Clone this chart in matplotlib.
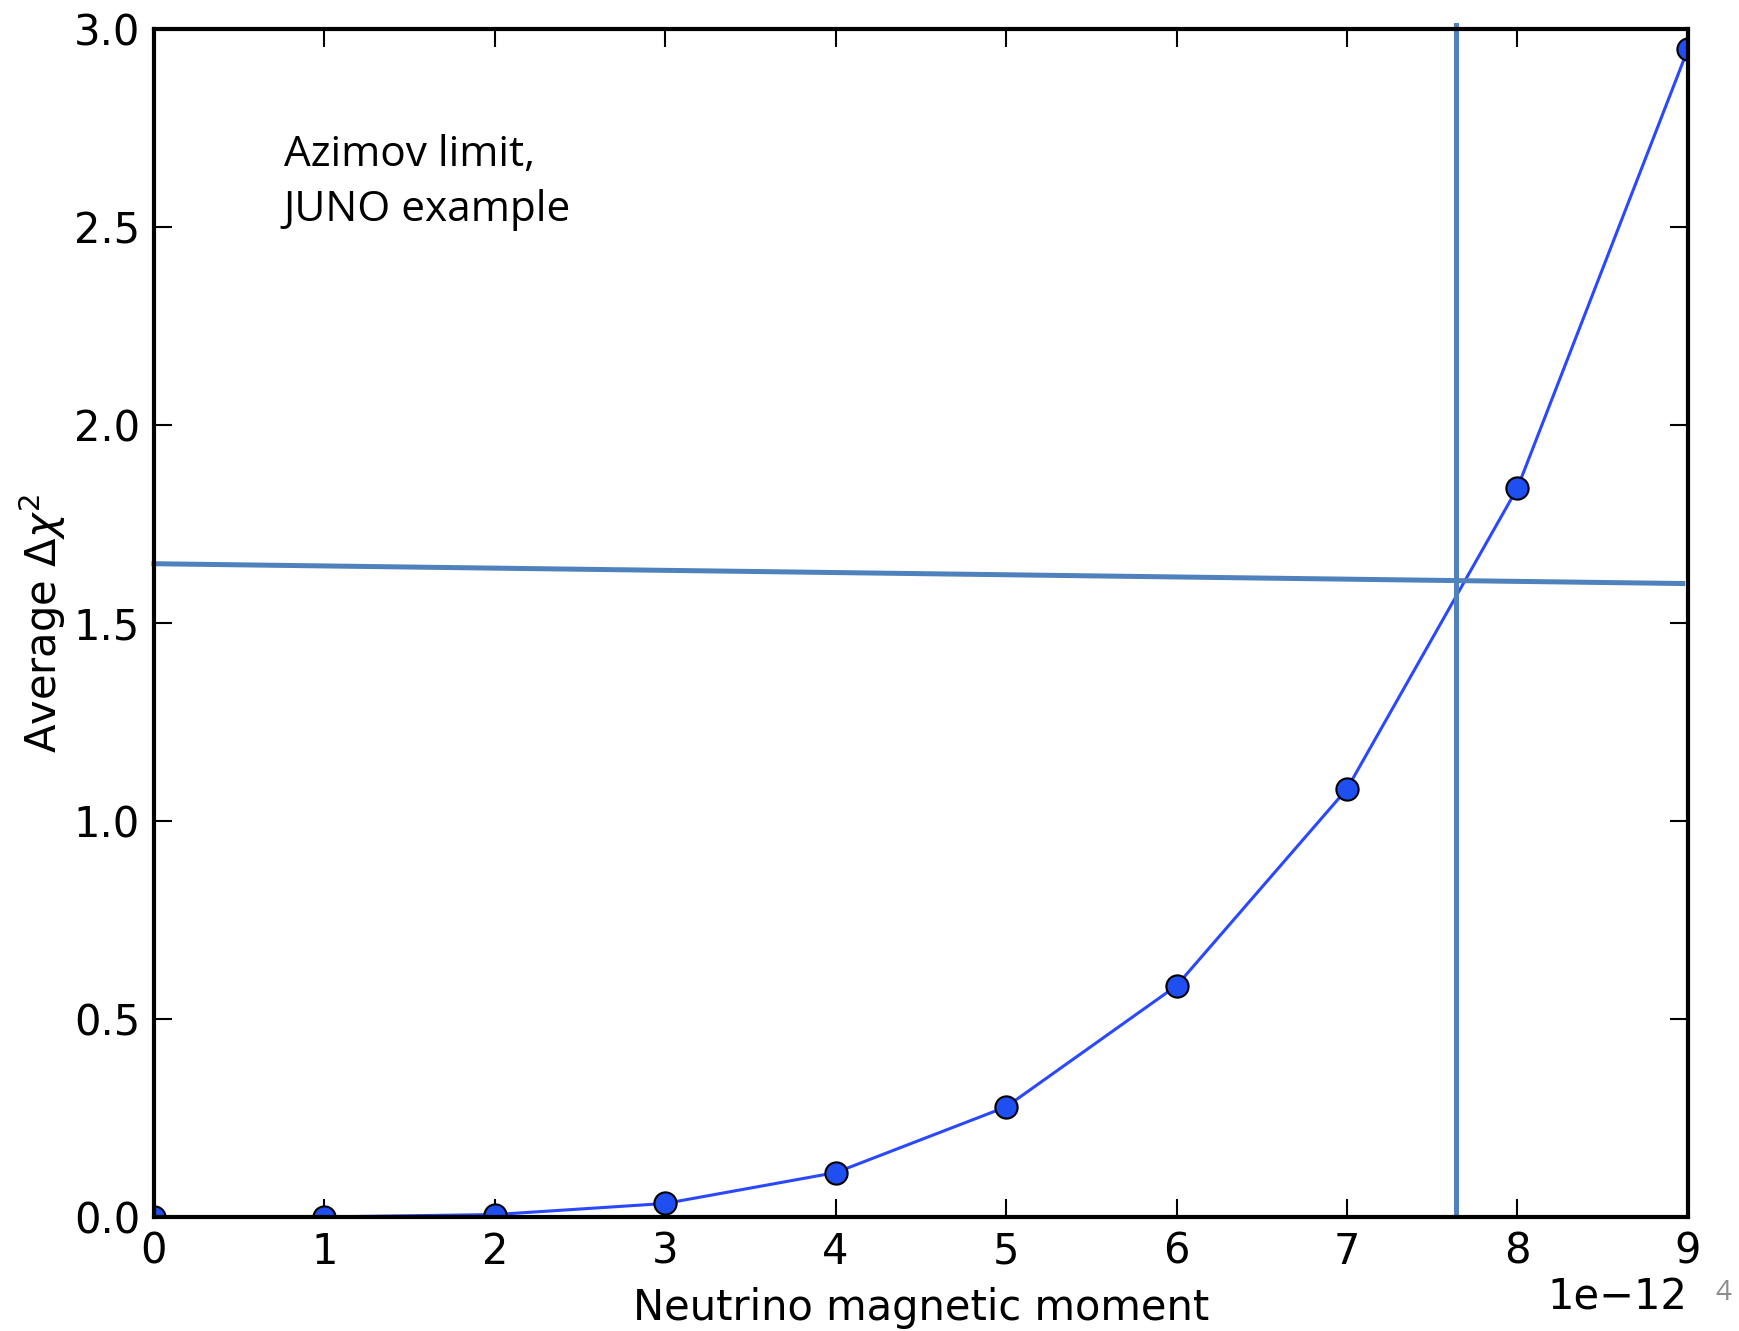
import numpy as np
import matplotlib
matplotlib.use("Agg")
from matplotlib import pyplot as plt

# data
moment = [0, 1, 2, 3, 4, 5, 6, 7, 8, 9]          # in units of 1e-12
avg_dchi2 = [0.0, 0.0, 0.006, 0.034, 0.112, 0.278, 0.584, 1.081, 1.841, 2.949]

# hand drawn guide lines on the slide
hline_x = [0.0, 8.97]
hline_y = [1.65, 1.60]
vline_x = [7.64, 7.64]
vline_y = [0.008, 3.01]

x = np.array(moment) * 1e-12

fig = plt.figure(figsize=(17.4, 13.31), dpi=100)
ax = fig.add_axes([0.0885, 0.0857, 0.8815, 0.8923])

ax.plot(x, avg_dchi2, "-", color="#2a48ff", lw=2.2,
        marker="o", ms=16, mfc="#1f4ff0", mec="black", mew=1.5)

ax.plot(np.array(hline_x) * 1e-12, hline_y, color="#4f81bd", lw=3.6, clip_on=False)
ax.plot(np.array(vline_x) * 1e-12, vline_y, color="#4f81bd", lw=3.6, clip_on=False)

ax.set_xlim(0, 9e-12)
ax.set_ylim(0, 3.0)
ax.set_yticks([0, 0.5, 1.0, 1.5, 2.0, 2.5, 3.0])
ax.set_xticks(x)

ax.tick_params(direction="in", length=13, width=1.5, top=True, right=True,
               labelsize=30, pad=10)
for s in ax.spines.values():
    s.set_linewidth(3)
ax.xaxis.get_offset_text().set_fontsize(30)

ax.set_xlabel("Neutrino magnetic moment", fontsize=30, labelpad=10)
ax.set_ylabel(r"Average $\Delta\chi^2$", fontsize=30, labelpad=4)

ax.text(0.0845, 0.912, "Azimov limit,\nJUNO example", transform=ax.transAxes,
        fontsize=30.5, family="Open Sans", va="top", ha="left", linespacing=1.42)

fig.text(0.995, 0.018, "4", color="#8c8c8c", fontsize=20,
         family="Open Sans", ha="right", va="bottom")

fig.savefig("out.png", dpi=100)
